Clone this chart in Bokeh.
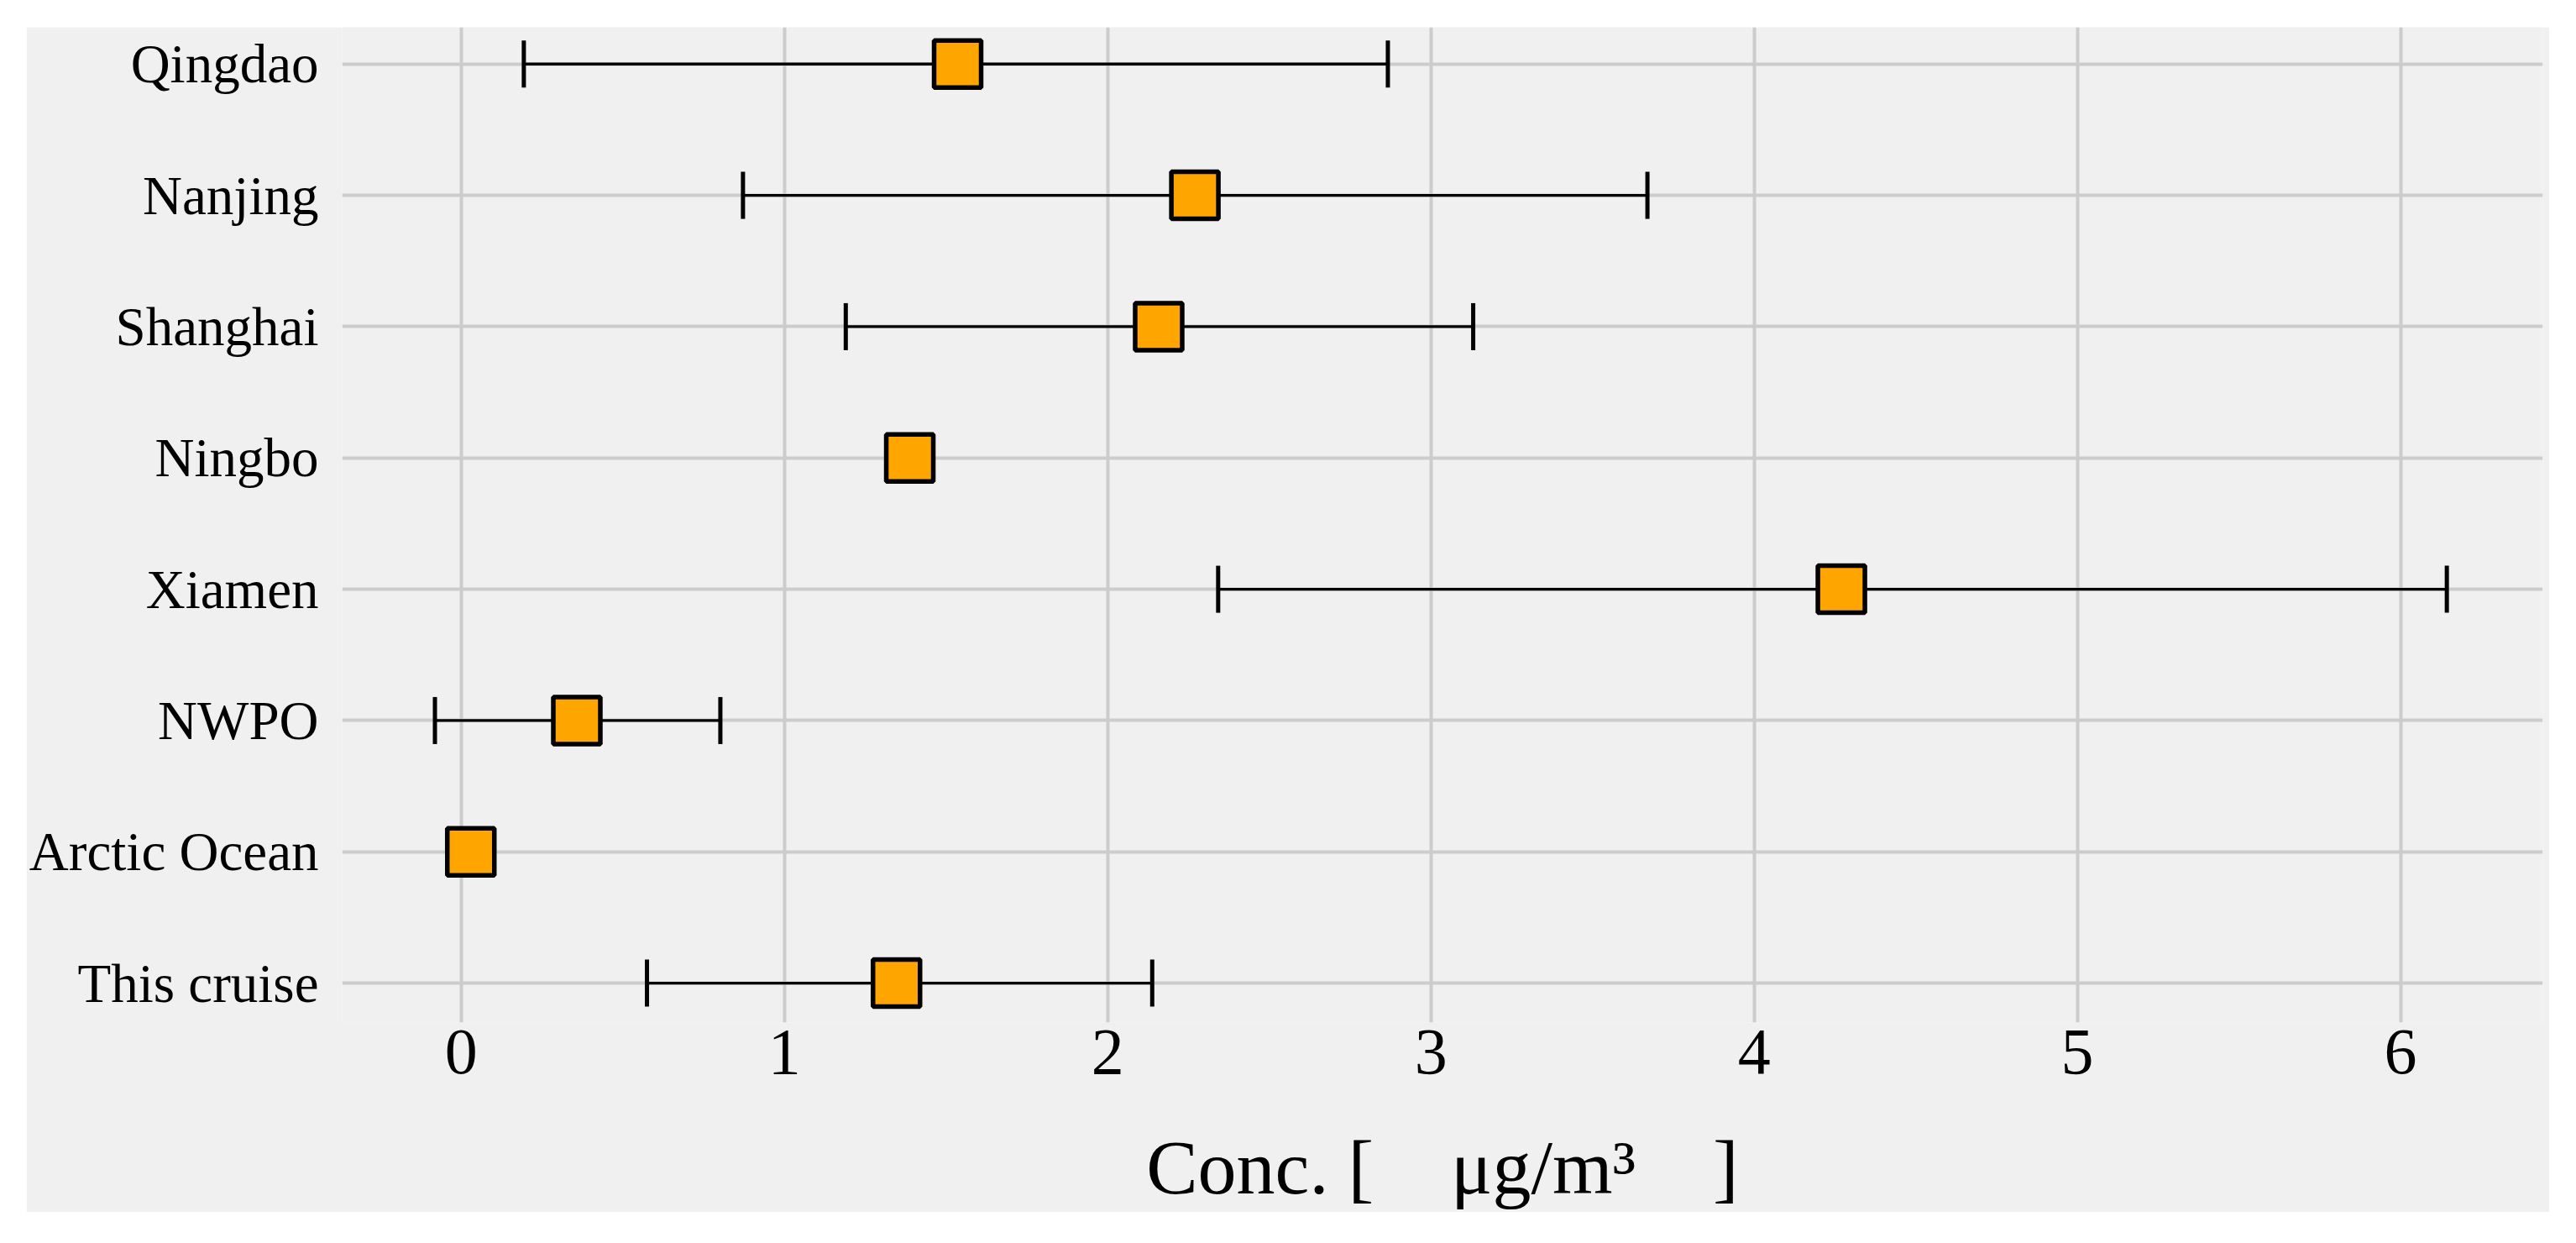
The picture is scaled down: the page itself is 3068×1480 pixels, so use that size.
import numpy as np
from bokeh.plotting import figure
from bokeh.models import ColumnDataSource, Range1d, FixedTicker, Spacer
from bokeh.layouts import column, row
from bokeh.embed import file_html
from bokeh.resources import INLINE

# ---- data ----
sites = ["Qingdao", "Nanjing", "Shanghai", "Ningbo", "Xiamen", "NWPO", "Arctic Ocean", "This cruise"]
conc_mean = [1.536, 2.270, 2.158, 1.388, 4.270, 0.358, 0.030, 1.347]
conc_low = [0.194, 0.872, 1.190, None, 2.342, -0.081, None, 0.575]
conc_high = [2.867, 3.670, 3.131, None, 6.143, 0.802, None, 2.138]
x_ticks = [0, 1, 2, 3, 4, 5, 6]
x_label = "Conc. [\u00a0\u00a0\u00a0\u00a0μg/m³\u00a0\u00a0\u00a0\u00a0]"

FONT = "Liberation Serif"
BG = "#f0f0f0"
GRID = "#cccccc"

n = len(sites)
ypos = [n - 1 - i for i in range(n)]

pts = ColumnDataSource(dict(y=ypos, x=conc_mean, site=sites))
eb_idx = [i for i in range(n) if conc_low[i] is not None]
err = ColumnDataSource(dict(
    y=[ypos[i] for i in eb_idx],
    lo=[conc_low[i] for i in eb_idx],
    hi=[conc_high[i] for i in eb_idx],
))

p = figure(width=3005, height=1411, output_backend="svg", toolbar_location=None,
           x_range=Range1d(-0.368, 6.44), y_range=Range1d(-0.30, 7.28),
           min_border_left=376, min_border_right=8, min_border_top=0, min_border_bottom=226)
p.background_fill_color = BG
p.border_fill_color = BG
p.outline_line_color = None

# error bars
p.segment(x0="lo", y0="y", x1="hi", y1="y", source=err, line_color="black", line_width=3.3)
p.scatter(x="lo", y="y", source=err, marker="dash", size=56, angle=np.pi / 2,
          line_color="black", line_width=5)
p.scatter(x="hi", y="y", source=err, marker="dash", size=56, angle=np.pi / 2,
          line_color="black", line_width=5)
# means
p.scatter(x="x", y="y", source=pts, marker="square", size=56, fill_color="#FFA500",
          line_color="black", line_width=5.5)

# grids
p.xgrid.ticker = FixedTicker(ticks=x_ticks)
p.ygrid.ticker = FixedTicker(ticks=ypos)
for g in (p.xgrid, p.ygrid):
    g.grid_line_color = GRID
    g.grid_line_width = 4

# x axis
xa = p.xaxis[0]
xa.ticker = FixedTicker(ticks=x_ticks)
xa.axis_line_color = None
xa.major_tick_line_color = None
xa.minor_tick_line_color = None
xa.major_label_text_font = FONT
xa.major_label_text_font_size = "78px"
xa.major_label_text_color = "black"
xa.major_label_standoff = 3
xa.axis_label = x_label
xa.axis_label_text_font = FONT
xa.axis_label_text_font_size = "92px"
xa.axis_label_text_font_style = "normal"
xa.axis_label_text_color = "black"
xa.axis_label_standoff = 58

# y axis
ya = p.yaxis[0]
ya.ticker = FixedTicker(ticks=ypos)
ya.major_label_overrides = {yv: s for yv, s in zip(ypos, sites)}
ya.axis_line_color = None
ya.major_tick_line_color = None
ya.minor_tick_line_color = None
ya.major_label_text_font = FONT
ya.major_label_text_font_size = "65px"
ya.major_label_text_color = "black"
ya.major_label_standoff = 22

layout = column(Spacer(height=32), row(Spacer(width=31), p))

open("out.html", "w").write(file_html(layout, INLINE))
